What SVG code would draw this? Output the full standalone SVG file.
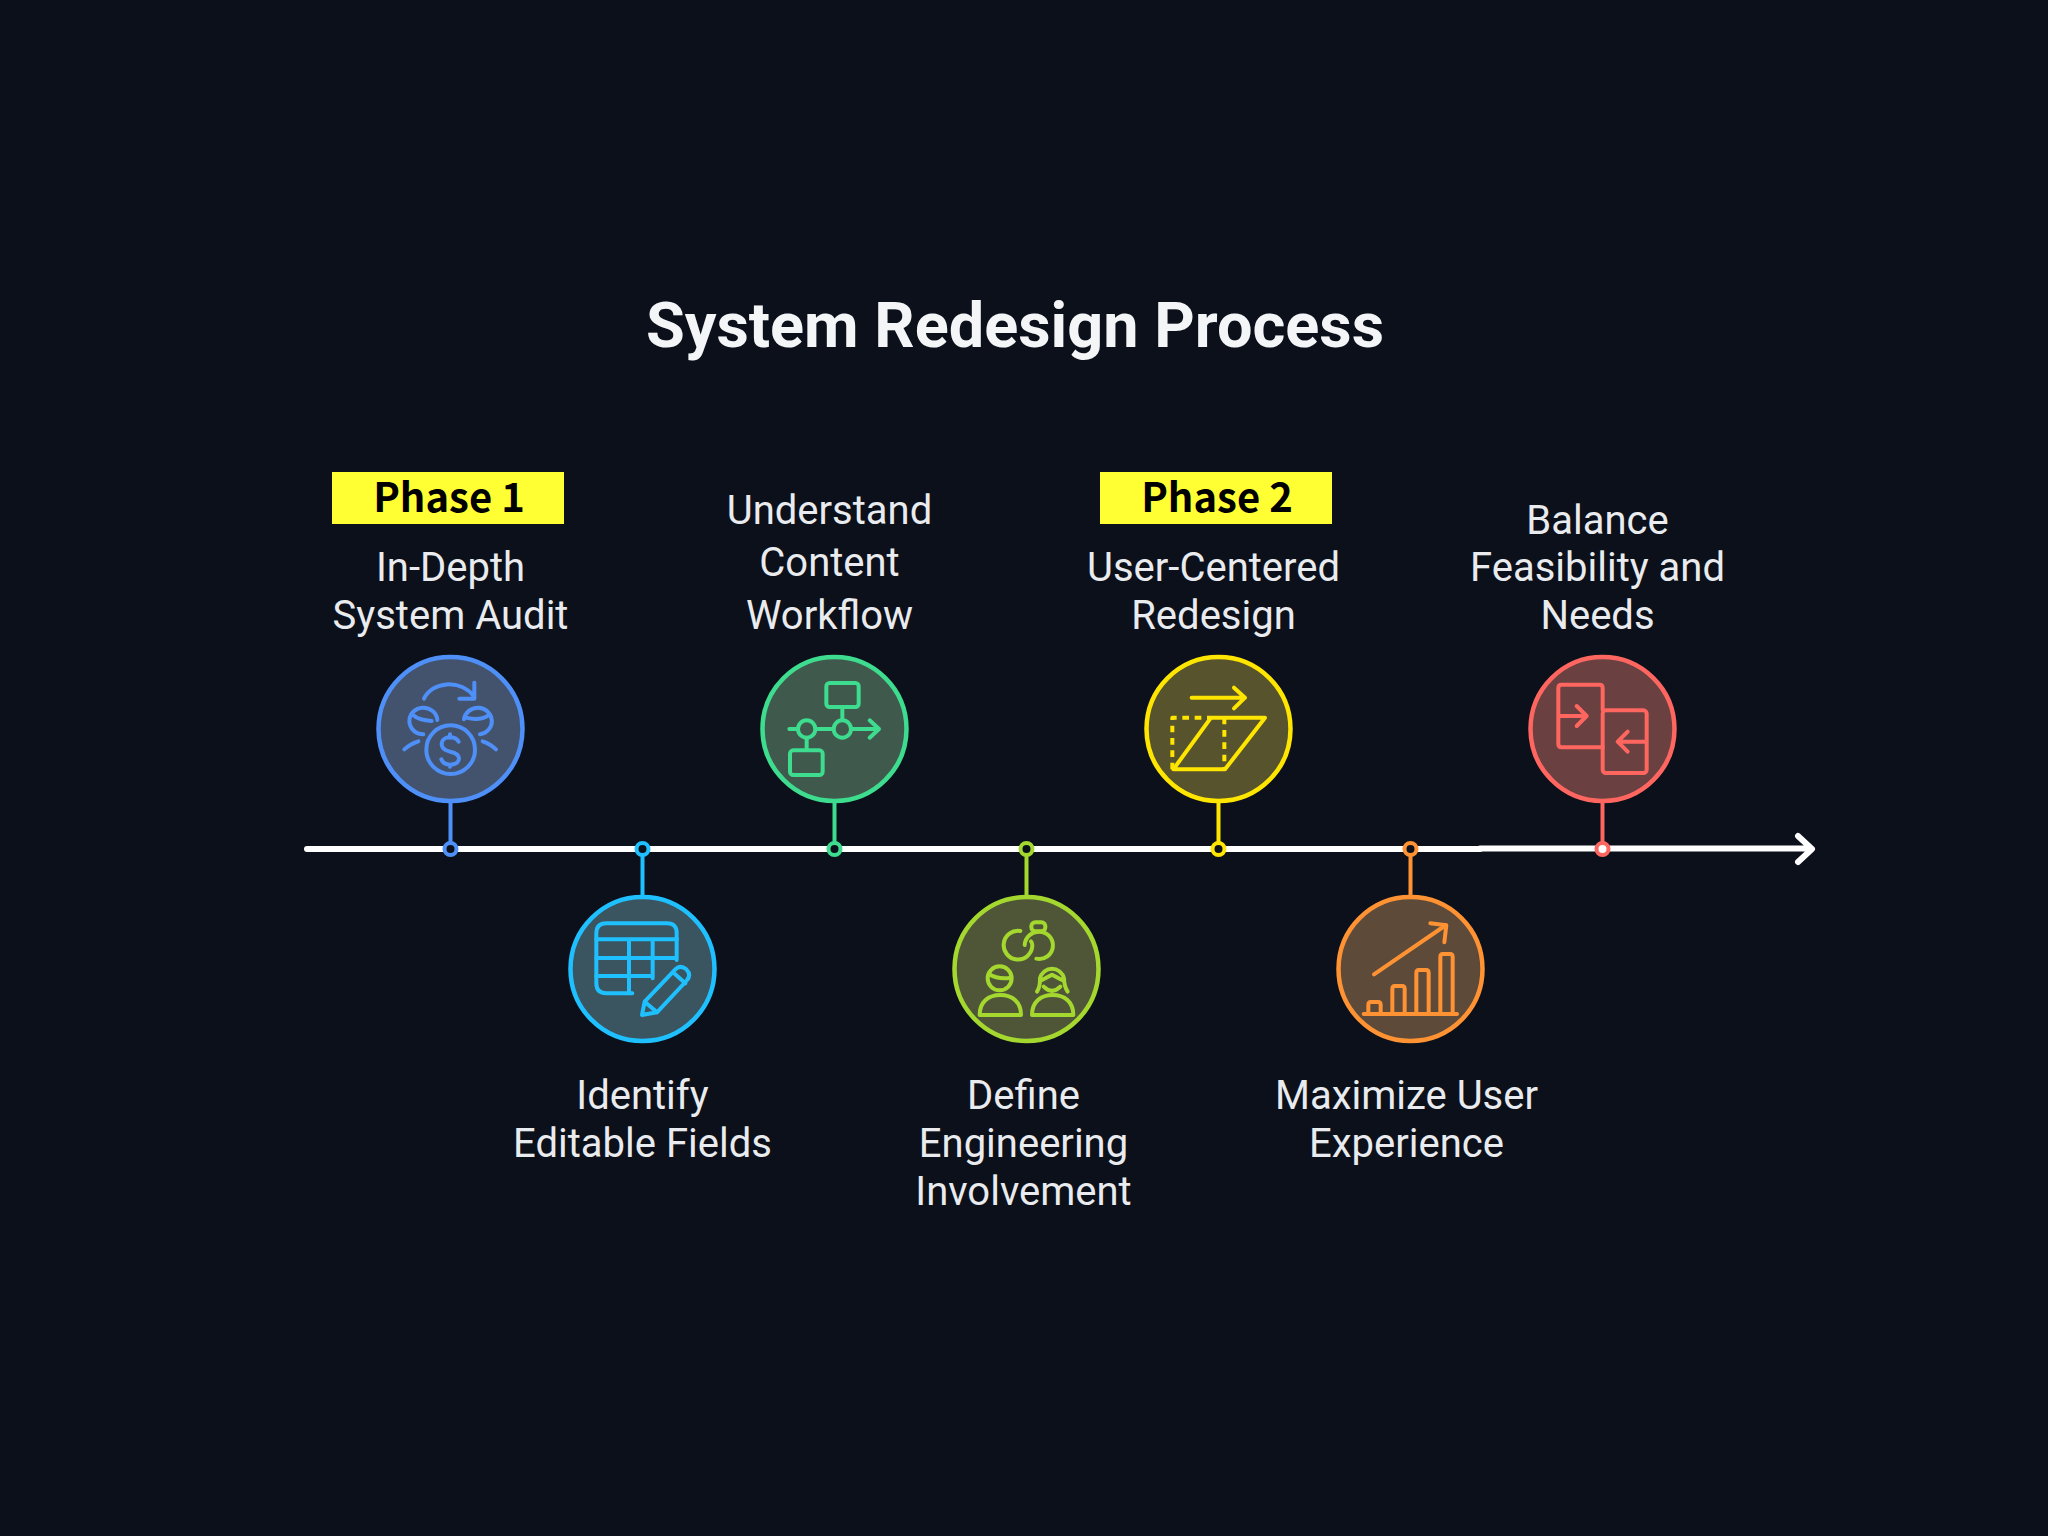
<svg xmlns="http://www.w3.org/2000/svg" width="2048" height="1536" viewBox="0 0 2048 1536">
<style>
.lbl{font-family:Roboto,"Liberation Sans",sans-serif;font-size:40px;font-weight:400;fill:#e9ebee;text-anchor:middle}
.ttl{font-family:Roboto,"Liberation Sans",sans-serif;font-size:63px;font-weight:700;fill:#f4f5f7;text-anchor:middle}
.tag{font-family:"Noto Sans CJK SC","Noto Sans",sans-serif;font-size:40px;font-weight:700;fill:#000;text-anchor:middle}
.tagbg{fill:#ffff33}
.ic{fill:none;stroke-width:12;stroke-linecap:round;stroke-linejoin:round}
.ring{stroke-width:4.5}
.stem{stroke-width:4;fill:none}
.dot{stroke-width:4;fill:#0b101a}
.axis{stroke:#fff;stroke-width:6;fill:none;stroke-linecap:round;stroke-linejoin:round}
</style>
<rect width="2048" height="1536" fill="#0b101a"/>
<text id="title" class="ttl" x="1015" y="347">System Redesign Process</text>
<g id="connectors">
<path class="axis" d="M307 849H1480"/>
<path class="axis" d="M1480 848.5L1811 848.5M1798 836L1812 849L1798 862"/>
<path class="stem" stroke="#4f90f8" d="M450.5 803V843"/>
<path class="stem" stroke="#1fc0ff" d="M642.5 855V895"/>
<path class="stem" stroke="#3ddc8f" d="M834.5 803V843"/>
<path class="stem" stroke="#a4d82e" d="M1026.5 855V895"/>
<path class="stem" stroke="#ffe600" d="M1218.5 803V843"/>
<path class="stem" stroke="#ff9233" d="M1410.5 855V895"/>
<path class="stem" stroke="#ff6660" d="M1602.5 803V843"/>
<circle class="dot" stroke="#4f90f8" cx="450.5" cy="849" r="6"/>
<circle class="dot" stroke="#1fc0ff" cx="642.5" cy="849" r="6"/>
<circle class="dot" stroke="#3ddc8f" cx="834.5" cy="849" r="6"/>
<circle class="dot" stroke="#a4d82e" cx="1026.5" cy="849" r="6"/>
<circle class="dot" stroke="#ffe600" cx="1218.5" cy="849" r="6"/>
<circle class="dot" stroke="#ff9233" cx="1410.5" cy="849" r="6"/>
<circle class="dot" stroke="#ff6660" cx="1602.5" cy="849" r="6" style="fill:#fff"/>
</g>
<g id="node-audit">
<rect class="tagbg" x="332" y="472" width="232" height="52"/>
<text class="tag" x="449" y="512">Phase 1</text>
<text class="lbl" x="450.5" y="581">In-Depth</text>
<text class="lbl" x="450.5" y="629">System Audit</text>
<circle class="ring" cx="450.5" cy="729" r="72" fill="#43536e" stroke="#4f90f8"/>
<g class="ic" stroke="#4f90f8" transform="translate(360 640) scale(.33333)">
<path d="M192 176C215 125 300 115 343 170M343 128V176H298"/>
<path d="M232 240A42 40 0 1 0 190 283M160 226C175 240 195 242 215 243"/>
<path d="M312 238A42 40 0 1 1 360 283M385 226C365 240 345 240 318 233"/>
<circle cx="272" cy="329" r="73"/>
<path d="M296 305C290 295 280 292 270 292C255 292 245 300 245 313C245 328 258 332 270 335C285 338 297 343 297 355C297 368 285 374 270 374C258 374 248 368 244 358M270 283V293M270 374V380"/>
<path d="M133 328Q150 312 175 304M408 328Q392 312 368 304"/>
</g>
</g>
<g id="node-fields">
<circle class="ring" cx="642.5" cy="969" r="72" fill="#3a5460" stroke="#1fc0ff"/>
<g class="ic" stroke="#1fc0ff" transform="translate(552 880) scale(.33333)">
<path d="M374 240V160Q375 130 345 130H163Q133 130 133 160V310Q133 340 163 340H241"/>
<path d="M133 178H375M133 234H372M133 288H302M231 178V340M302 178V295"/>
<path d="M270 405L278 365L370 268Q385 253 403 268Q420 285 403 303L315 397ZM278 365L315 397M362 276L400 310"/>
</g>
<text class="lbl" x="642.5" y="1109">Identify</text>
<text class="lbl" x="642.5" y="1157">Editable Fields</text>
</g>
<g id="node-workflow">
<text class="lbl" x="829.5" y="524">Understand</text>
<text class="lbl" x="829.5" y="576">Content</text>
<text class="lbl" x="829.5" y="629">Workflow</text>
<circle class="ring" cx="834.5" cy="729" r="72" fill="#3f5a4c" stroke="#3ddc8f"/>
<g class="ic" stroke="#3ddc8f" transform="translate(745 640) scale(.33333)">
<rect x="244" y="129" width="97" height="72" rx="10"/>
<rect x="135" y="331" width="98" height="74" rx="10"/>
<circle cx="292" cy="267" r="26"/>
<circle cx="185" cy="267" r="26"/>
<path d="M292 202V240M133 267H158M212 267H265M318 267H402M374 241L402 267L374 293M185 293V330"/>
</g>
</g>
<g id="node-engineering">
<circle class="ring" cx="1026.5" cy="969" r="72" fill="#4f5638" stroke="#a4d82e"/>
<g class="ic" stroke="#a4d82e" transform="translate(937 880) scale(.33333)">
<path d="M250 153A43 43 0 1 0 286 196Q286 188 282 184"/>
<path d="M263 195C265 170 285 155 305 155A41 41 0 1 1 298 236"/>
<rect x="283" y="127" width="42" height="27" rx="12"/>
<circle cx="188" cy="295" r="36"/>
<path d="M155 282Q185 300 222 293"/>
<path d="M128 405C128 365 155 345 190 345C225 345 252 365 252 405Z"/>
<path d="M300 335C310 320 309 310 309 295A37 37 0 0 1 381 295C381 310 382 320 392 335M315 300L345 284L375 300M320 320Q345 345 370 320"/>
<path d="M285 405C285 365 312 345 347 345C382 345 409 365 409 405Z"/>
</g>
<text class="lbl" x="1023.5" y="1109">Define</text>
<text class="lbl" x="1023.5" y="1157">Engineering</text>
<text class="lbl" x="1023.5" y="1205">Involvement</text>
</g>
<g id="node-redesign">
<rect class="tagbg" x="1100" y="472" width="232" height="52"/>
<text class="tag" x="1217" y="512">Phase 2</text>
<text class="lbl" x="1213.5" y="581">User-Centered</text>
<text class="lbl" x="1213.5" y="629">Redesign</text>
<circle class="ring" cx="1218.5" cy="729" r="72" fill="#57532c" stroke="#ffe600"/>
<g class="ic" stroke="#ffe600" transform="translate(1130 640) scale(.33333)">
<path d="M185 173H345M312 143L345 173L312 205"/>
<path d="M130 388L243 233H405L285 388Z"/>
<path stroke-linecap="butt" stroke-dasharray="20 17" d="M127 388V233H243M283 233V388"/>
</g>
</g>
<g id="node-experience">
<circle class="ring" cx="1410.5" cy="969" r="72" fill="#5e4a38" stroke="#ff9233"/>
<g class="ic" stroke="#ff9233" transform="translate(1322 880) scale(.33333)">
<path d="M125 402H405"/>
<path d="M139 400V374Q139 366 147 366H168Q176 366 176 374V400"/>
<path d="M211 400V326Q211 318 219 318H240Q248 318 248 326V400"/>
<path d="M283 400V278Q283 270 291 270H312Q320 270 320 278V400"/>
<path d="M355 400V230Q355 222 363 222H384Q392 222 392 230V400"/>
<path d="M156 283L372 135M325 130L373 136L367 187"/>
</g>
<text class="lbl" x="1406.5" y="1109">Maximize User</text>
<text class="lbl" x="1406.5" y="1157">Experience</text>
</g>
<g id="node-balance">
<text class="lbl" x="1597.5" y="533.5">Balance</text>
<text class="lbl" x="1597.5" y="581">Feasibility and</text>
<text class="lbl" x="1597.5" y="629">Needs</text>
<circle class="ring" cx="1602.5" cy="729" r="72" fill="#6a4040" stroke="#ff6660"/>
<g class="ic" stroke="#ff6660" transform="translate(1515 640) scale(.33333)">
<path d="M263 211V144Q263 134 253 134H140Q130 134 130 144V312Q130 322 140 322H263"/>
<rect x="263" y="211" width="132" height="188" rx="10"/>
<path d="M135 228H215M185 198L215 228L185 258M390 305H310M338 275L308 305L338 335"/>
</g>
</g>
</svg>
